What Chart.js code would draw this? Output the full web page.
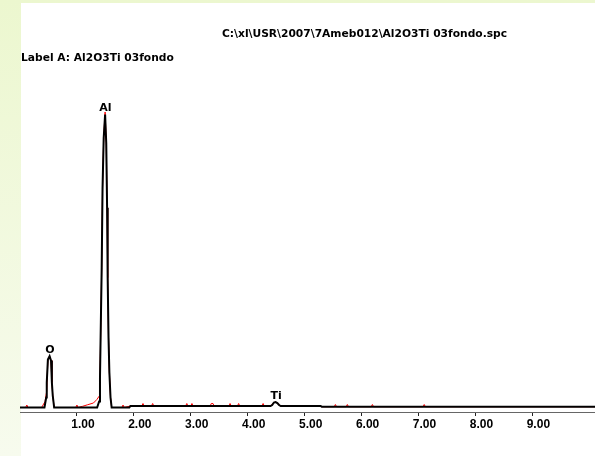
<!DOCTYPE html>
<html>
<head>
<meta charset="utf-8">
<script src="https://cdn.jsdelivr.net/npm/chart.js@4/dist/chart.umd.min.js"></script>
<style>
  html, body { margin: 0; padding: 0; background: #fff; }
  #spc { display: block; }
</style>
</head>
<body>
<canvas id="spc" width="595" height="456"></canvas>
<script>
// spectrum (keV / counts)
var specKeV = [0.00, 0.40, 0.43, 0.46, 0.47, 0.49, 0.52, 0.545, 0.56, 0.575, 0.60, 0.65,
  1.30, 1.355, 1.39, 1.405, 1.42, 1.435, 1.45, 1.47, 1.495, 1.515, 1.53, 1.54, 1.555, 1.57, 1.59, 1.61, 1.65,
  1.92, 1.94, 4.40, 4.43, 4.46, 4.49, 4.52, 4.55, 4.58, 5.28, 5.30, 10.10];
var specCounts = [0, 0, 0, 100, 250, 480, 515, 470, 250, 120, 0, 0,
  0, 0, 60, 300, 850, 1400, 2200, 2700, 2935, 2650, 2000, 1300, 700, 350, 100, 0, 0,
  0, 15, 15, 25, 50, 55, 45, 25, 15, 15, 8, 8];

// second trace (red), mostly hidden under the black one
var bgKeV = [0.00, 0.10, 0.12, 0.14, 0.38, 0.44, 0.468, 0.49, 0.52, 0.545, 0.56, 0.575, 0.60,
  0.98, 1.00, 1.02, 1.10, 1.19, 1.29, 1.35, 1.393, 1.405, 1.42, 1.435, 1.45, 1.47, 1.495, 1.515, 1.53, 1.54, 1.555, 1.57, 1.59, 1.61,
  1.79, 1.81, 1.83, 1.94, 2.14, 2.16, 2.18, 2.31, 2.33, 2.35, 2.91, 2.93, 2.95, 3.00, 3.02, 3.04,
  3.34, 3.36, 3.39, 3.41, 3.67, 3.69, 3.71, 3.82, 3.84, 3.86, 4.25, 4.27, 4.29, 4.40, 4.46, 4.49, 4.52, 4.58, 5.28, 5.30,
  5.52, 5.54, 5.56, 5.73, 5.75, 5.77, 6.17, 6.19, 6.21, 7.08, 7.10, 7.12, 10.10];
var bgCounts = [0, 0, 25, 0, 0, 60, 160, 480, 515, 470, 250, 120, 0,
  0, 25, 0, 12, 28, 45, 80, 115, 300, 850, 1400, 2200, 2700, 2960, 2650, 2000, 1300, 700, 350, 100, 0,
  0, 25, 0, 15, 15, 40, 15, 15, 40, 15, 15, 40, 15, 15, 40, 15,
  15, 40, 40, 15, 15, 40, 15, 15, 40, 15, 15, 40, 15, 15, 50, 55, 45, 15, 15, 8,
  8, 30, 8, 8, 30, 8, 8, 30, 8, 8, 30, 8, 8];

var tickValues = [1, 2, 3, 4, 5, 6, 7, 8, 9];
var peakNames = ['O', 'Al', 'Ti'];
var peakKeV = [0.525, 1.50, 4.50];
var peakCounts = [515, 2935, 55];

var headerPath = 'C:\\xl\\USR\\2007\\7Ameb012\\Al2O3Ti 03fondo.spc';
var headerLabel = 'Label A: Al2O3Ti 03fondo';

function pts(xs, ys) {
  return xs.map(function (x, i) { return { x: x, y: ys[i] }; });
}

var pageBackground = {
  id: 'pageBackground',
  beforeDraw: function (chart) {
    var c = chart.ctx;
    c.save();
    var g = c.createLinearGradient(0, 0, 0, chart.height);
    g.addColorStop(0, '#ecf7cf');
    g.addColorStop(1, '#f7fbee');
    c.fillStyle = g;
    c.fillRect(0, 0, chart.width, chart.height);
    c.fillStyle = '#ffffff';
    c.fillRect(21, 3, chart.width - 21, chart.height - 3);
    c.restore();
  }
};

var spectrumText = {
  id: 'spectrumText',
  afterDraw: function (chart) {
    var c = chart.ctx;
    var xs = chart.scales.x, ys = chart.scales.y;
    c.save();
    c.fillStyle = '#000';
    c.font = 'bold 10.7px "DejaVu Sans", sans-serif';
    c.textBaseline = 'alphabetic';
    c.textAlign = 'left';
    c.fillText(headerPath, 222, 37);
    c.fillText(headerLabel, 21, 61);
    c.font = 'bold 11px "DejaVu Sans", sans-serif';
    c.textAlign = 'center';
    peakNames.forEach(function (name, i) {
      c.fillText(name, xs.getPixelForValue(peakKeV[i]), ys.getPixelForValue(peakCounts[i]) - 3);
    });
    c.restore();
  }
};

var ctx = document.getElementById('spc').getContext('2d');
var spcChart = new Chart(ctx, {
  type: 'line',
  data: {
    datasets: [{
      label: 'spectrum',
      data: pts(specKeV, specCounts),
      borderColor: '#000000',
      borderWidth: 2,
      pointRadius: 0,
      tension: 0,
      order: 1
    }, {
      label: 'trace B',
      data: pts(bgKeV, bgCounts),
      borderColor: '#ff0000',
      borderWidth: 1,
      pointRadius: 0,
      tension: 0,
      order: 2
    }]
  },
  options: {
    responsive: false,
    animation: false,
    devicePixelRatio: 1,
    layout: { padding: { left: 20, right: 0, top: 108, bottom: 23.6 } },
    plugins: { legend: { display: false }, tooltip: { enabled: false } },
    scales: {
      x: {
        type: 'linear',
        min: 0,
        max: 10.1,
        afterBuildTicks: function (scale) {
          scale.ticks = tickValues.map(function (v) { return { value: v }; });
        },
        grid: { drawOnChartArea: false, drawTicks: true, tickLength: 4, color: '#222' },
        border: { display: true, color: '#666', width: 1 },
        ticks: {
          autoSkip: false,
          maxRotation: 0,
          padding: 1,
          labelOffset: 6,
          color: '#000',
          font: { family: '"Liberation Sans", Arial, sans-serif', weight: 'bold', size: 12 },
          callback: function (v) { return Number(v).toFixed(2); }
        }
      },
      y: {
        display: false,
        min: -45,
        max: 3000
      }
    }
  },
  plugins: [pageBackground, spectrumText]
});
</script>
</body>
</html>
